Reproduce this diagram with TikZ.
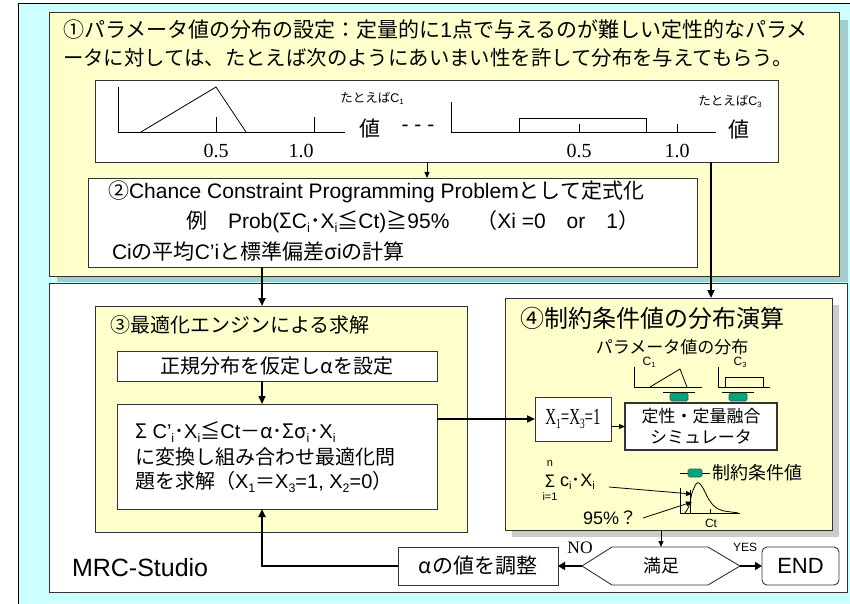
\documentclass[tikz,border=0pt]{standalone}
\usepackage{fontspec}
\usepackage{graphicx}
\setmainfont{Liberation Sans}
\newfontfamily\jp{Noto Sans CJK JP}
\newfontfamily\ar{Liberation Sans}
\newfontfamily\tms{Liberation Serif}
\usetikzlibrary{arrows.meta}
\XeTeXinterchartokenstate=1
\newXeTeXintercharclass\CJKcls
\newcount\cidx
\newcommand\setcls[2]{\cidx=#1 \loop \XeTeXcharclass\cidx=\CJKcls \ifnum\cidx<#2 \advance\cidx by 1 \repeat}
\setcls{"3000}{"30FF}
\setcls{"4E00}{"9FFF}
\setcls{"FF00}{"FFEF}
\setcls{"2460}{"24FF}
\setcls{"2266}{"2267}
\setcls{"0391}{"03C9}
\XeTeXinterchartoks 0 \CJKcls = {\jp}
\XeTeXinterchartoks 4095 \CJKcls = {\jp}
\XeTeXinterchartoks \CJKcls 0 = {\ar}
\XeTeXinterchartoks \CJKcls 4095 = {\ar}
\newcommand\fs[2]{\fontsize{#1}{#2}\selectfont}
\newcommand\low[1]{\raisebox{-0.3ex}{\scalebox{0.62}{#1}}}
\definecolor{bgc}{HTML}{CCFFFF}
\definecolor{yel}{HTML}{FFFFCC}
\definecolor{grn}{RGB}{0,166,126}
\definecolor{edge}{HTML}{333333}
\tikzset{
  boxw/.style={draw=edge, line width=0.9pt, fill=white, inner sep=0pt, outer sep=0pt, rectangle},
  boxy/.style={boxw, fill=yel},
  txt/.style={inner sep=0pt, outer sep=0pt},
  conn/.style={line width=2pt, -{Triangle[length=8pt,width=7pt]}},
  thinarr/.style={line width=1pt, -{Triangle[length=6pt,width=5pt]}},
  shadow/.style={fill=black, opacity=0.2},
  thinline/.style={line width=0.8pt, draw=black},
  greenblk/.style={fill=grn, draw=black!70, line width=0.6pt, rounded corners=1.5pt},
}
\begin{document}
\begin{tikzpicture}[x=1pt,y=-1pt]
\useasboundingbox (0,0) rectangle (850,604);
% background
\fill[bgc] (18,4) rectangle (852,606);
\draw[line width=1pt] (18,606) -- (18,4) -- (852,4);
% top panel
\fill[shadow] (57,20) rectangle (848,282);
\node[boxy, minimum width=790, minimum height=264] (p1) at (444,144) {};
\node[txt, anchor=west] (t1) at (63,30) {\fs{21}{25}①パラメータ値の分布の設定：定量的に1点で与えるのが難しい定性的なパラメ};
\node[txt, anchor=west] (t2) at (63,58) {\fs{20.4}{25}ータに対しては、たとえば次のようにあいまい性を許して分布を与えてもらう。};
% plot box
\node[boxw, minimum width=683, minimum height=82] (pbox) at (436.5,121) {};
\draw[thinline] (118,87) -- (118,132) -- (345,132);
\draw[thinline] (141,132) -- (216,87) -- (246,132);
\draw[thinline] (216,117) -- (216,132) (314,117) -- (314,132);
\node[txt] (l05a) at (216,151) {\tms\fs{20}{24}0.5};
\node[txt] (l10a) at (301,151) {\tms\fs{20}{24}1.0};
\node[txt] (eg1) at (372,98) {\fs{12.5}{14}たとえばC\low{1}};
\node[txt] (v1) at (370,129) {\fs{21}{24}値};
\node[txt] (dots) at (418,128) {\fs{21}{24}- - -};
\draw[thinline] (451,102) -- (451,132) -- (716,132);
\draw[thinline] (519,132) -- (519,118) -- (646,118) -- (646,132);
\draw[thinline] (579,124) -- (579,132) (677,124) -- (677,132);
\node[txt] (l05b) at (579,151) {\tms\fs{20}{24}0.5};
\node[txt] (l10b) at (677,151) {\tms\fs{20}{24}1.0};
\node[txt] (eg3) at (730,101) {\fs{12.5}{14}たとえばC\low{3}};
\node[txt] (v3) at (739,130) {\fs{21}{24}値};
% box 2
\node[boxw, minimum width=609, minimum height=89] (p2) at (392.5,222.5) {};
\node[txt, anchor=west] (p2a) at (108,192) {\fs{21}{25}②Chance Constraint Programming Problemとして定式化};
\node[txt, anchor=west] (p2b) at (186,222) {\fs{21}{25}例　Prob(ΣC\low{i}･X\low{i}≦Ct)≧95\%　 （Xi =0　or　1）};
\node[txt, anchor=west] (p2c) at (112,251) {\fs{21}{25}Ciの平均C’iと標準偏差σiの計算};
\coordinate (xb) at (427,0);
\draw[thinarr] (pbox.south -| xb) -- (p2.north -| xb);
% lower panel
\node[boxw, minimum width=798, minimum height=309] (mrc) at (448,437.5) {};
\node[txt, anchor=west] (mrcl) at (72,568) {\fs{25}{28}MRC-Studio};
% box 3
\node[boxy, minimum width=372, minimum height=226] (b3) at (281,419) {};
\node[txt, anchor=west] (b3t) at (110,325) {\fs{20}{24}③最適化エンジンによる求解};
\node[boxw, minimum width=320, minimum height=30] (bN) at (277,366) {\fs{20}{24}正規分布を仮定しαを設定};
\node[boxw, minimum width=320, minimum height=105] (bF) at (277,456.5) {};
\node[txt, anchor=west] (f1) at (135,432) {\fs{20}{24}Σ C’\low{i}･X\low{i}≦Ct－α･Σσ\low{i}･X\low{i}};
\node[txt, anchor=west] (f2) at (135,457) {\fs{20}{24}に変換し組み合わせ最適化問};
\node[txt, anchor=west] (f3) at (135,482) {\fs{20}{24}題を求解（X\low{1}＝X\low{3}=1, X\low{2}=0）};
\coordinate (xa) at (262,0);
\draw[conn] (p2.south -| xa) -- (b3.north -| xa);
\draw[conn, line width=1.5pt] (bN.south -| xa) -- (bF.north -| xa);
% box 4
\fill[shadow] (512,305) rectangle (839,537);
\node[boxy, minimum width=327, minimum height=232] (b4) at (668.5,414) {};
\node[txt, anchor=west] (b4t) at (520,318) {\fs{24}{28}④制約条件値の分布演算};
\node[txt] (pd) at (672,347) {\fs{17}{20}パラメータ値の分布};
\coordinate (xc) at (711,0);
\draw[conn, line width=2.5pt] (pbox.south -| xc) -- (b4.north -| xc);
% small plots
\draw[thinline] (634,367) -- (634,387) -- (702,387);
\draw[thinline] (650,387) -- (680,369) -- (687,387);
\node[txt] (c1) at (649,362) {\fs{12}{14}C\low{1}};
\draw[thinline] (718,367) -- (718,387) -- (770,387);
\draw[thinline] (725,387) -- (725,377) -- (763,377) -- (763,387);
\node[txt] (c3) at (740,362) {\fs{12}{14}C\low{3}};
\foreach \cx in {679,738}{
  \draw[line width=1pt] (\cx-16,392.5) -- (\cx+16,392.5);
  \fill[greenblk] (\cx-9,393) rectangle (\cx+9,401);
}
\node[boxw, minimum width=76, minimum height=44] (bX) at (573,419) {\scalebox{0.65}[1]{\tms\fs{23}{25}X\low{1}=X\low{3}=1}};
\node[boxw, line width=2.5pt, minimum width=152, minimum height=47, align=center, font=\fs{17}{21}] (sim) at (701,426.5) {定性・定量融合\\シミュレータ};
\draw[conn] (bF.east |- bX.west) -- (bX.west);
\draw[thinarr] (bX.east |- sim.west) -- (sim.west);
% sum formula and curve
\node[txt] (sn) at (550,464) {\fs{11}{12}n};
\node[txt] (ss) at (550,481) {\fs{17}{18}Σ};
\node[txt] (si) at (550,497) {\fs{11}{12}i=1};
\node[txt, anchor=west] (sc) at (560,482) {\fs{18}{20}c\low{i}･X\low{i}};
\draw[thinline] (680,473) -- (710,473);
\fill[greenblk] (688,469) rectangle (702,477);
\node[txt, anchor=west] (lg) at (712,473) {\fs{18}{20}制約条件値};
\draw[thinline] (680,488) -- (680,513) -- (740,513);
\draw[thinline] (690,490) -- (690,513);
\draw[thinline] plot[smooth] coordinates {(685,513) (689,506) (692,493) (696,484) (699,483) (703,488) (708,498) (714,506) (722,510.5) (738,512.8)};
\draw[thinline] (710,509) -- (710,513);
\node[txt] (ct) at (711,523) {\fs{12}{14}Ct};
\node[txt, anchor=west] (p95) at (583,518) {\fs{18}{20}95\%？};
\coordinate (ha1) at (692,494);
\coordinate (ha2) at (692,502);
\draw[thinarr, line width=0.8pt] (sc.east) ++(14,5) -- (ha1);
\draw[thinarr, line width=0.8pt] (p95.east) ++(6,0) -- (ha2);
% decision
\node[txt, minimum width=158, minimum height=38] (hex) at (661,566) {\fs{18}{20}満足};
\draw[line width=0.9pt, draw=edge] ([xshift=30pt]hex.north west) -- ([xshift=-32pt]hex.north east) -- (hex.east) -- ([xshift=-32pt]hex.south east) -- ([xshift=30pt]hex.south west) -- (hex.west) -- cycle;
\draw[thinarr] (b4.south -| hex.north) -- (hex.north);
\node[boxw, minimum width=160, minimum height=38] (bA) at (478,566) {\fs{21}{24}αの値を調整};
\node[boxw, rounded corners=5pt, minimum width=77, minimum height=38] (endn) at (800.5,566) {\fs{22}{24}END};
\draw[conn, line width=2.5pt, -{Triangle[length=7pt,width=8pt]}] (hex.west) -- (bA.east);
\draw[conn, line width=2.5pt, -{Triangle[length=7pt,width=8pt]}] (hex.east) -- (endn.west);
\node[txt] (no) at (580,548) {\tms\fs{17.5}{20}NO};
\node[txt] (yes) at (745,547) {\fs{12}{14}YES};
\draw[conn] (bA.west) -| (bF.south -| xa);
\end{tikzpicture}
\end{document}
